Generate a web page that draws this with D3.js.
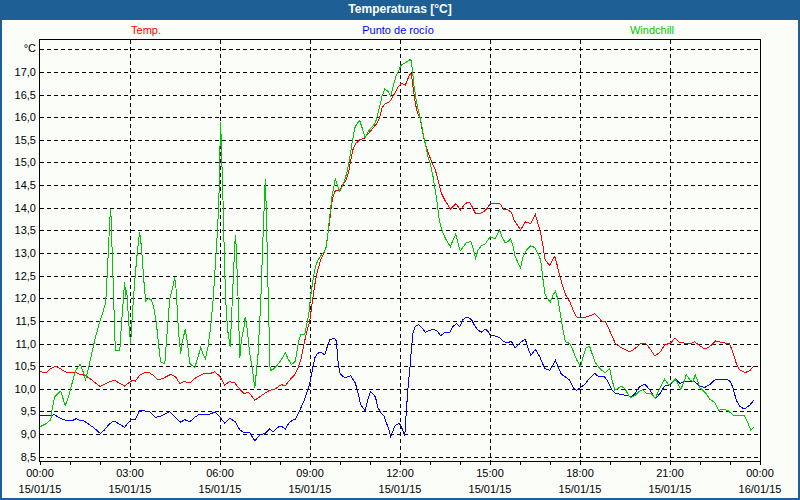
<!DOCTYPE html>
<html>
<head>
<meta charset="utf-8">
<script src="https://cdn.jsdelivr.net/npm/d3@7/dist/d3.min.js"></script>
<style>
    body { margin: 0; background: #ffffff; }
    svg text { font-family: "Liberation Sans", Arial, sans-serif; font-size: 11px; }
</style>
</head>
<body>
<svg id="chart" width="800" height="500"></svg>
<script>
// hours since 00:00 15/01/15, value in °C
let tempData = [[0,10.38],[0.2,10.35],[0.32,10.43],[0.51,10.50],[0.66,10.45],[0.82,10.38],[0.99,10.35],[1.1,10.35],[1.2,10.36],[1.32,10.32],[1.49,10.30],[1.66,10.23],[1.82,10.14],[2.01,10.05],[2.16,10.10],[2.32,10.16],[2.49,10.19],[2.66,10.12],[2.82,10.06],[2.99,10.15],[3.1,10.19],[3.18,10.17],[3.32,10.30],[3.49,10.36],[3.66,10.35],[3.77,10.30],[3.93,10.20],[4.1,10.23],[4.36,10.32],[4.51,10.27],[4.66,10.12],[4.82,10.16],[4.99,10.13],[5.16,10.23],[5.32,10.29],[5.49,10.34],[5.66,10.33],[5.82,10.38],[5.99,10.28],[6.16,10.08],[6.32,10.16],[6.49,10.13],[6.66,9.99],[6.80,9.90],[6.96,9.92],[7.16,9.75],[7.32,9.82],[7.49,9.90],[7.66,9.97],[7.82,9.99],[7.93,10.04],[8.04,10.09],[8.18,10.07],[8.32,10.19],[8.49,10.31],[8.6,10.46],[8.71,10.68],[8.82,11.05],[8.91,11.30],[8.99,11.49],[9.07,11.89],[9.16,12.30],[9.24,12.59],[9.36,12.85],[9.47,13.01],[9.54,13.14],[9.6,13.44],[9.66,13.73],[9.71,14.03],[9.77,14.25],[9.84,14.37],[9.99,14.38],[10.1,14.51],[10.21,14.62],[10.29,14.80],[10.36,15.06],[10.43,15.28],[10.51,15.41],[10.66,15.50],[10.8,15.53],[10.96,15.65],[11.1,15.76],[11.24,15.87],[11.32,16.00],[11.4,16.20],[11.49,16.29],[11.6,16.32],[11.69,16.37],[11.77,16.47],[11.84,16.54],[11.93,16.66],[12.04,16.75],[12.18,16.71],[12.32,16.94],[12.38,16.97],[12.43,16.68],[12.51,16.31],[12.58,16.09],[12.66,16.01],[12.74,15.72],[12.82,15.46],[12.91,15.28],[12.99,15.13],[13.07,14.98],[13.16,14.87],[13.24,14.69],[13.32,14.47],[13.38,14.32],[13.49,14.17],[13.6,14.06],[13.68,13.97],[13.77,14.03],[13.86,14.09],[13.93,14.03],[14.01,13.94],[14.1,14.03],[14.19,14.10],[14.32,14.12],[14.43,13.99],[14.52,13.87],[14.66,13.87],[14.8,13.92],[14.91,13.99],[15.02,14.10],[15.16,14.10],[15.32,14.10],[15.47,13.95],[15.6,13.95],[15.71,13.90],[15.8,13.73],[15.91,13.62],[16.02,13.51],[16.18,13.69],[16.36,13.65],[16.51,13.85],[16.6,13.65],[16.69,13.43],[16.77,13.14],[16.84,12.84],[16.99,12.73],[17.08,12.84],[17.16,12.93],[17.24,12.73],[17.32,12.51],[17.43,12.25],[17.54,12.05],[17.66,11.92],[17.77,11.74],[17.88,11.59],[18.02,11.57],[18.16,11.58],[18.32,11.61],[18.49,11.66],[18.6,11.59],[18.71,11.50],[18.84,11.48],[18.93,11.37],[19.04,11.21],[19.18,11.00],[19.32,10.93],[19.49,10.87],[19.66,10.82],[19.77,10.86],[19.93,10.94],[20.02,11.01],[20.18,11.01],[20.32,10.90],[20.49,10.73],[20.66,10.80],[20.82,10.97],[21.02,11.01],[21.16,11.12],[21.32,11.02],[21.49,11.01],[21.66,10.99],[21.82,11.04],[21.99,10.95],[22.16,10.88],[22.32,10.93],[22.52,11.06],[22.68,11.03],[22.84,11.01],[22.99,10.99],[23.1,10.79],[23.21,10.56],[23.32,10.42],[23.51,10.36],[23.66,10.40],[23.8,10.51]];

let dewData = [[0,9.41],[0.32,9.40],[0.47,9.43],[0.6,9.38],[0.77,9.32],[0.95,9.29],[1.05,9.29],[1.21,9.34],[1.36,9.29],[1.47,9.29],[1.6,9.23],[1.77,9.15],[2.02,9.01],[2.16,9.10],[2.32,9.23],[2.47,9.29],[2.62,9.23],[2.82,9.15],[2.95,9.26],[3.04,9.32],[3.18,9.32],[3.32,9.51],[3.49,9.51],[3.66,9.49],[3.84,9.37],[3.99,9.39],[4.1,9.42],[4.32,9.49],[4.49,9.38],[4.69,9.26],[4.82,9.32],[4.99,9.27],[5.16,9.37],[5.32,9.44],[5.49,9.44],[5.66,9.44],[5.84,9.49],[5.99,9.38],[6.16,9.24],[6.32,9.35],[6.51,9.27],[6.66,9.09],[6.82,9.03],[6.99,9.03],[7.16,8.85],[7.32,8.98],[7.49,9.01],[7.66,9.12],[7.77,9.05],[7.93,9.15],[8.04,9.18],[8.18,9.11],[8.29,9.24],[8.4,9.30],[8.51,9.33],[8.62,9.46],[8.73,9.63],[8.84,9.80],[8.93,9.98],[9.02,10.20],[9.09,10.46],[9.16,10.68],[9.24,10.77],[9.32,10.81],[9.4,10.79],[9.49,10.75],[9.58,10.94],[9.66,11.08],[9.73,11.10],[9.82,11.12],[9.88,11.05],[9.93,10.64],[9.99,10.35],[10.07,10.29],[10.16,10.24],[10.27,10.27],[10.36,10.29],[10.43,10.21],[10.51,10.13],[10.6,9.91],[10.69,9.65],[10.77,9.57],[10.84,9.52],[10.91,9.72],[11.02,9.94],[11.1,9.89],[11.18,9.82],[11.27,9.57],[11.38,9.46],[11.47,9.39],[11.54,9.26],[11.63,9.10],[11.69,8.95],[11.77,9.08],[11.84,9.19],[11.96,9.23],[12.02,9.21],[12.1,9.06],[12.16,8.96],[12.21,9.50],[12.27,10.05],[12.32,10.38],[12.38,10.86],[12.43,11.23],[12.51,11.38],[12.62,11.42],[12.74,11.34],[12.84,11.25],[12.99,11.29],[13.13,11.32],[13.24,11.27],[13.36,11.17],[13.49,11.25],[13.66,11.25],[13.77,11.38],[13.88,11.44],[13.99,11.38],[14.1,11.53],[14.21,11.58],[14.32,11.56],[14.4,11.51],[14.49,11.39],[14.6,11.30],[14.71,11.25],[14.84,11.32],[14.93,11.27],[15.02,11.17],[15.16,11.17],[15.3,11.14],[15.44,11.05],[15.56,11.01],[15.71,11.05],[15.84,10.90],[15.98,11.00],[16.04,11.04],[16.18,11.09],[16.27,10.89],[16.36,10.74],[16.51,10.87],[16.66,10.71],[16.82,10.45],[16.99,10.41],[17.1,10.52],[17.18,10.63],[17.27,10.49],[17.38,10.32],[17.54,10.25],[17.66,10.19],[17.77,10.03],[17.88,9.96],[18.02,10.03],[18.16,10.10],[18.32,10.23],[18.49,10.34],[18.62,10.27],[18.8,10.28],[18.93,10.16],[19.07,9.97],[19.18,9.90],[19.32,9.88],[19.49,9.86],[19.6,9.85],[19.71,9.81],[19.84,9.90],[19.96,10.03],[20.07,10.08],[20.18,10.09],[20.32,9.98],[20.51,9.78],[20.66,9.89],[20.82,10.06],[21.02,10.09],[21.18,10.23],[21.32,10.12],[21.49,10.16],[21.66,10.16],[21.82,10.16],[21.99,10.06],[22.16,10.03],[22.32,10.09],[22.52,10.21],[22.71,10.20],[22.91,10.20],[23.02,10.16],[23.1,10.01],[23.21,9.75],[23.32,9.62],[23.47,9.55],[23.66,9.64],[23.8,9.75]];

let chillData = [[0,9.16],[0.21,9.23],[0.36,9.32],[0.4,9.53],[0.49,9.82],[0.58,9.88],[0.69,9.95],[0.84,9.63],[0.95,9.82],[1.08,10.15],[1.19,10.41],[1.34,10.54],[1.46,10.34],[1.52,10.20],[1.62,10.47],[1.73,10.80],[1.84,11.11],[1.97,11.44],[2.08,11.66],[2.19,11.90],[2.24,12.51],[2.30,13.36],[2.33,13.76],[2.36,13.98],[2.40,13.14],[2.46,11.89],[2.51,10.85],[2.66,10.85],[2.71,11.37],[2.78,11.99],[2.82,12.36],[2.86,12.03],[2.89,12.18],[2.96,11.44],[3.02,11.00],[3.08,11.66],[3.16,12.40],[3.23,12.92],[3.32,13.47],[3.38,13.14],[3.46,12.40],[3.52,11.94],[3.62,11.99],[3.71,11.97],[3.8,11.77],[3.88,11.44],[3.96,10.93],[4.02,10.60],[4.16,10.55],[4.21,11.00],[4.32,11.96],[4.43,12.26],[4.49,12.46],[4.54,12.18],[4.62,11.22],[4.69,10.78],[4.73,11.00],[4.84,11.31],[4.91,11.04],[4.99,10.56],[5.16,10.47],[5.27,10.71],[5.36,10.92],[5.43,10.78],[5.51,10.66],[5.6,10.93],[5.69,11.37],[5.77,11.96],[5.84,12.70],[5.91,13.44],[5.96,14.10],[5.99,15.06],[6.02,15.90],[6.04,15.50],[6.1,14.17],[6.16,12.55],[6.21,11.67],[6.27,11.22],[6.34,10.93],[6.4,11.81],[6.47,12.85],[6.51,13.40],[6.54,13.14],[6.6,12.04],[6.66,10.67],[6.71,11.07],[6.8,11.37],[6.84,11.59],[6.91,11.30],[6.99,10.78],[7.07,10.49],[7.16,10.01],[7.27,10.78],[7.36,11.96],[7.43,13.29],[7.49,14.32],[7.51,14.63],[7.54,14.03],[7.6,12.26],[7.67,10.40],[7.77,10.43],[7.91,10.52],[8.04,10.64],[8.18,10.79],[8.27,10.66],[8.38,10.53],[8.51,10.61],[8.62,11.05],[8.69,11.19],[8.82,11.19],[8.88,11.38],[8.96,11.64],[9.02,12.04],[9.1,12.41],[9.18,12.70],[9.27,12.85],[9.38,12.96],[9.47,13.03],[9.54,13.13],[9.6,13.44],[9.67,13.88],[9.73,14.25],[9.8,14.47],[9.84,14.65],[9.91,14.51],[9.99,14.36],[10.07,14.47],[10.16,14.62],[10.24,14.80],[10.32,15.09],[10.4,15.42],[10.49,15.76],[10.58,15.87],[10.66,15.92],[10.73,15.78],[10.84,15.55],[10.96,15.70],[11.1,15.81],[11.18,15.88],[11.24,16.01],[11.32,16.23],[11.4,16.46],[11.49,16.62],[11.6,16.57],[11.69,16.47],[11.77,16.68],[11.88,16.93],[11.96,17.04],[12.04,17.15],[12.2,17.21],[12.36,17.28],[12.4,17.12],[12.47,16.68],[12.54,16.38],[12.62,16.12],[12.69,15.94],[12.77,15.65],[12.84,15.42],[12.93,15.13],[13.02,14.95],[13.1,14.69],[13.18,14.36],[13.24,14.10],[13.29,13.81],[13.36,13.59],[13.43,13.44],[13.54,13.29],[13.68,13.14],[13.77,13.29],[13.86,13.42],[13.93,13.22],[14.01,13.05],[14.1,13.13],[14.21,13.23],[14.36,13.25],[14.43,13.11],[14.52,12.89],[14.6,13.06],[14.71,13.16],[14.84,13.20],[14.93,13.29],[15.02,13.36],[15.16,13.31],[15.24,13.40],[15.32,13.50],[15.4,13.36],[15.51,13.22],[15.6,13.25],[15.69,13.31],[15.77,13.14],[15.84,12.92],[15.93,12.79],[16.02,12.66],[16.1,12.92],[16.21,13.06],[16.36,13.16],[16.49,13.12],[16.6,12.99],[16.69,12.84],[16.77,12.40],[16.84,12.07],[17.01,11.91],[17.1,12.07],[17.18,12.16],[17.27,11.96],[17.36,11.59],[17.43,11.30],[17.51,11.04],[17.66,11.00],[17.77,10.84],[17.88,10.65],[18.02,10.49],[18.1,10.71],[18.21,10.91],[18.32,10.94],[18.4,10.78],[18.51,10.58],[18.66,10.45],[18.84,10.35],[18.99,10.45],[19.07,10.19],[19.16,9.97],[19.27,10.01],[19.38,10.06],[19.51,9.99],[19.63,9.84],[19.71,9.81],[19.84,9.86],[19.99,9.95],[20.1,9.98],[20.21,9.90],[20.38,9.89],[20.51,9.79],[20.66,10.01],[20.82,10.21],[20.96,10.09],[21.07,10.14],[21.18,10.21],[21.36,9.99],[21.49,10.18],[21.54,10.31],[21.66,10.20],[21.77,10.16],[21.84,10.31],[21.91,10.20],[21.99,10.03],[22.07,9.98],[22.21,9.89],[22.32,9.77],[22.49,9.70],[22.62,9.52],[22.77,9.55],[22.93,9.52],[23.1,9.42],[23.24,9.40],[23.49,9.40],[23.6,9.24],[23.69,9.09],[23.8,9.15]];

let seriesNames = ["Temp.", "Punto de rocío", "Windchill"];
let seriesColors = ["#ff0000", "#0000ff", "#00c800"];
let timeLabels = ["00:00", "03:00", "06:00", "09:00", "12:00", "15:00", "18:00", "21:00", "00:00"];
let dateLabels = ["15/01/15", "15/01/15", "15/01/15", "15/01/15", "15/01/15", "15/01/15", "15/01/15", "15/01/15", "16/01/15"];
let yTicks = d3.range(8.5, 17.01, 0.5);

class TempChart {

    constructor() {
        this.svg = d3.select("#chart");
        this.margin = { top: 40, right: 40, bottom: 39, left: 40 };
        this.width = 800 - this.margin.left - this.margin.right;
        this.height = 500 - this.margin.top - this.margin.bottom;
    }

    draw() {
        let svg = this.svg;

        // window frame and title bar
        svg.append("rect").attr("width", 800).attr("height", 500).attr("fill", "#1e5f96");
        svg.append("rect").attr("x", 2).attr("y", 20).attr("width", 796).attr("height", 478).attr("fill", "#fbfdf9");
        svg.append("text")
            .attr("x", 400).attr("y", 10)
            .attr("text-anchor", "middle").attr("dominant-baseline", "middle")
            .attr("fill", "#ffffff").style("font-weight", "bold").style("font-size", "12px")
            .text("Temperaturas [°C]");

        // legend
        let legendX = [146, 398, 652];
        seriesNames.forEach(function (name, i) {
            svg.append("text")
                .attr("x", legendX[i]).attr("y", 31)
                .attr("text-anchor", "middle").attr("dominant-baseline", "middle")
                .attr("fill", seriesColors[i])
                .text(name);
        });

        let g = svg.append("g").attr("transform", "translate(" + this.margin.left + "," + this.margin.top + ")");

        let xScale = d3.scaleLinear().domain([0, 24]).range([0, this.width]);
        let yScale = d3.scaleLinear().domain([8.405, 17.705]).range([this.height, 0]);

        // dashed grid
        let grid = g.append("g").attr("stroke", "#000").attr("stroke-dasharray", "4,3").attr("shape-rendering", "crispEdges");
        grid.selectAll(".hgrid")
            .data(yTicks.concat([17.5]))
            .enter().append("line")
            .attr("x1", 0).attr("x2", this.width)
            .attr("y1", d => Math.round(yScale(d)) + 0.5)
            .attr("y2", d => Math.round(yScale(d)) + 0.5);
        grid.selectAll(".vgrid")
            .data(d3.range(3, 24, 3))
            .enter().append("line")
            .attr("y1", 0).attr("y2", this.height)
            .attr("x1", d => Math.round(xScale(d)) + 0.5)
            .attr("x2", d => Math.round(xScale(d)) + 0.5);

        // y labels
        let yAxis = d3.axisLeft(yScale)
            .tickValues(yTicks)
            .tickSize(0)
            .tickPadding(4)
            .tickFormat(d => d3.format(".1f")(d).replace(".", ","));
        let yAxisGroup = g.append("g").call(yAxis);
        yAxisGroup.select(".domain").remove();
        yAxisGroup.selectAll("text").attr("fill", "#000").style("font-size", "11px").style("font-family", "Liberation Sans, Arial, sans-serif");
        g.append("text")
            .attr("x", -4).attr("y", yScale(17.5))
            .attr("text-anchor", "end").attr("dominant-baseline", "middle")
            .text("°C");

        // hourly ticks below the frame
        let xAxis = d3.axisBottom(xScale)
            .tickValues(d3.range(0, 25, 1))
            .tickSize(4)
            .tickFormat("");
        let xAxisGroup = g.append("g")
            .attr("transform", "translate(0," + this.height + ")")
            .attr("shape-rendering", "crispEdges")
            .call(xAxis);
        xAxisGroup.select(".domain").remove();

        timeLabels.forEach((label, i) => {
            g.append("text")
                .attr("x", xScale(i * 3)).attr("y", this.height + 13)
                .attr("text-anchor", "middle").attr("dominant-baseline", "middle")
                .text(label);
            g.append("text")
                .attr("x", xScale(i * 3)).attr("y", this.height + 29)
                .attr("text-anchor", "middle").attr("dominant-baseline", "middle")
                .text(dateLabels[i]);
        });

        // data lines, drawn aliased like the original
        let line = d3.line()
            .x(d => xScale(d[0]))
            .y(d => yScale(d[1]));

        let allSeries = [tempData, dewData, chillData];
        let drawOrder = [1, 0, 2];
        drawOrder.forEach(function (i) {
            g.append("path")
                .datum(allSeries[i])
                .attr("fill", "none")
                .attr("stroke", seriesColors[i])
                .attr("stroke-width", 1)
                .attr("shape-rendering", "crispEdges")
                .attr("d", line);
        });

        // plot frame
        g.append("rect")
            .attr("x", -0.5).attr("y", -0.5)
            .attr("width", this.width + 1).attr("height", this.height + 1)
            .attr("fill", "none").attr("stroke", "#000").attr("stroke-width", 1)
            .attr("shape-rendering", "crispEdges");
    }
}

let chart = new TempChart();
chart.draw();
</script>
</body>
</html>
